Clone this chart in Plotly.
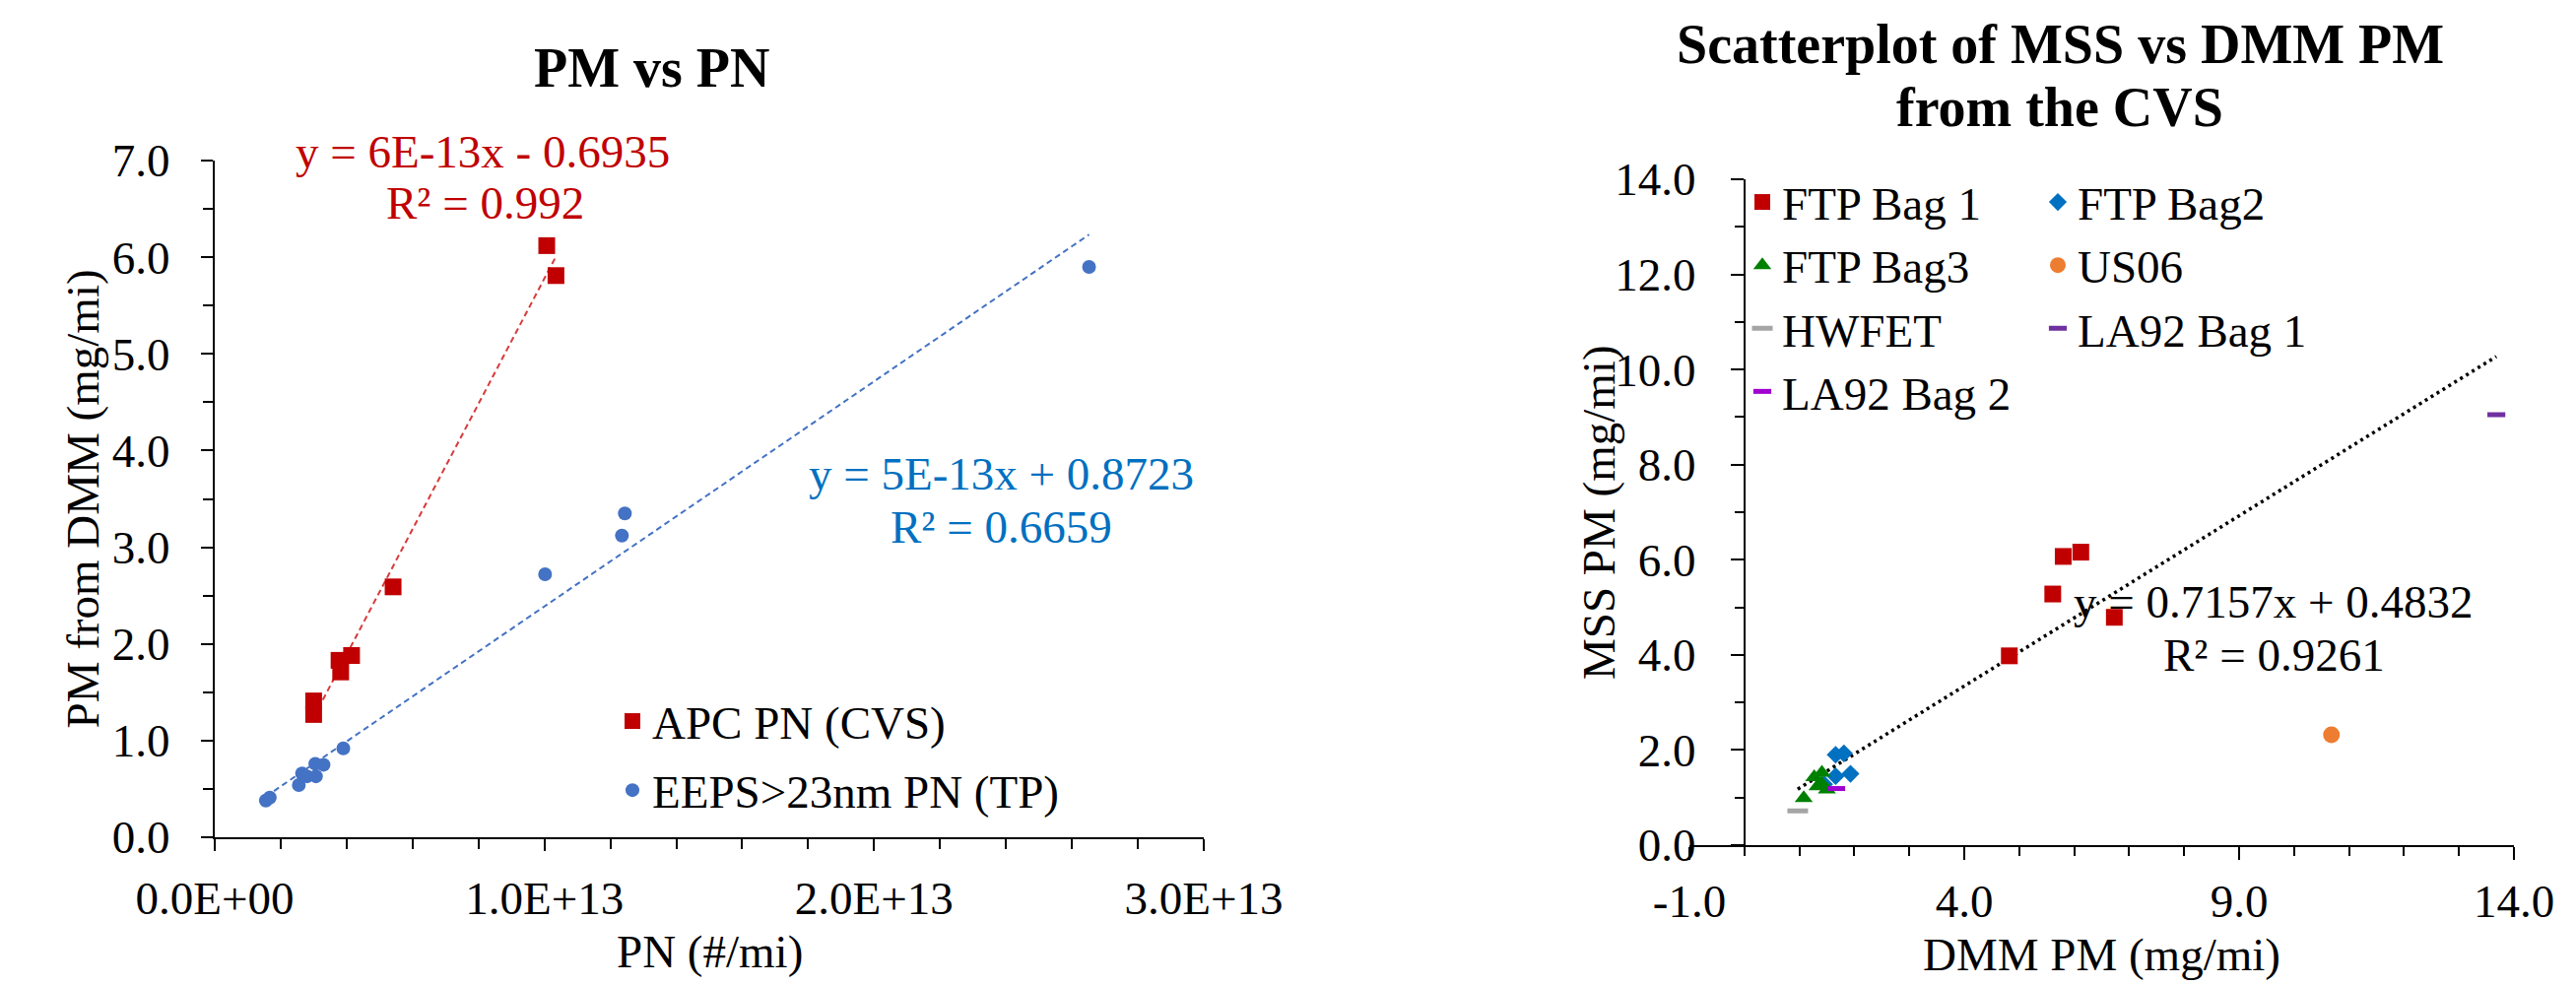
import numpy as np
import plotly.graph_objects as go

W, H = 2615, 1000
FONT = "Liberation Serif, Times New Roman, serif"

# ---------------- Left chart data: PM vs PN ----------------
apc_pn = [3.0e12, 3.0e12, 3.77e12, 3.82e12, 4.15e12, 5.41e12, 10.07e12, 10.35e12]
apc_pm = [1.41, 1.27, 1.83, 1.71, 1.88, 2.59, 6.12, 5.81]

eeps_pn = [1.55e12, 1.67e12, 2.55e12, 2.65e12, 2.80e12, 3.05e12, 3.07e12, 3.30e12,
           3.90e12, 10.02e12, 12.35e12, 12.44e12, 26.52e12]
eeps_pm = [0.38, 0.41, 0.54, 0.66, 0.63, 0.76, 0.63, 0.75, 0.92, 2.72, 3.12, 3.35, 5.90]

left_xtickvals = [0, 1e13, 2e13, 3e13]
left_xticktext = ["0.0E+00", "1.0E+13", "2.0E+13", "3.0E+13"]

apc_eq = "y = 6E-13x - 0.6935"
apc_r2 = "R² = 0.992"
eeps_eq = "y = 5E-13x + 0.8723"
eeps_r2 = "R² = 0.6659"

# ---------------- Right chart data: MSS vs DMM ----------------
ftp1_x = [4.82, 5.61, 5.80, 6.12, 6.73]
ftp1_y = [3.98, 5.28, 6.07, 6.16, 4.79]
ftp2_x = [1.45, 1.66, 1.81, 1.66, 1.93]
ftp2_y = [1.28, 1.90, 1.93, 1.45, 1.50]
ftp3_x = [1.08, 1.27, 1.41, 1.33, 1.50, 1.40]
ftp3_y = [0.99, 1.43, 1.52, 1.24, 1.17, 1.30]
us06_x = [10.68]
us06_y = [2.32]
hwfet_x = [0.97]
hwfet_y = [0.72]
la92b1_x = [13.68]
la92b1_y = [9.05]
la92b2_x = [1.67]
la92b2_y = [1.19]

right_xtickvals = [-1, 4, 9, 14]
right_xticktext = ["-1.0", "4.0", "9.0", "14.0"]

mss_slope = 0.7157
mss_intercept = 0.4832
mss_eq = "y = 0.7157x + 0.4832"
mss_r2 = "R² = 0.9261"

# ---------------- geometry (pixels on the page) ----------------
L_X0, L_X1, L_Y0, L_Y1 = 218, 1222, 850, 163
R_X0, R_X1, R_Y0, R_Y1 = 1715, 2552, 858, 182


def px(x):
    return x / W


def py(y):
    return 1 - y / H


fig = go.Figure()

# left trendlines (least squares on the data)
for xs, ys, col in [(apc_pn, apc_pm, "#D83A3A"), (eeps_pn, eeps_pm, "#4472C4")]:
    m, b = np.polyfit(xs, ys, 1)
    tx = np.array([min(xs), max(xs)])
    fig.add_trace(go.Scatter(x=tx, y=m * tx + b, mode="lines", xaxis="x", yaxis="y",
                             line=dict(color=col, width=2, dash="6px,4px"),
                             showlegend=False, hoverinfo="skip"))

fig.add_trace(go.Scatter(x=apc_pn, y=apc_pm, mode="markers", name="APC PN (CVS)",
                         xaxis="x", yaxis="y", legend="legend", legendgroup="apc",
                         marker=dict(symbol="square", size=17, color="#C00000")))
fig.add_trace(go.Scatter(x=eeps_pn, y=eeps_pm, mode="markers", name="EEPS>23nm PN (TP)",
                         xaxis="x", yaxis="y", legend="legend", legendgroup="eeps",
                         marker=dict(symbol="circle", size=14, color="#4472C4")))

# right chart series
all_rx = ftp1_x + ftp2_x + ftp3_x + us06_x + hwfet_x + la92b1_x + la92b2_x
tx = np.array([min(all_rx), max(all_rx)])
fig.add_trace(go.Scatter(x=tx, y=mss_slope * tx + mss_intercept, mode="lines",
                         xaxis="x2", yaxis="y2", showlegend=False, hoverinfo="skip",
                         line=dict(color="black", width=3.5, dash="3px,4px")))

series = [
    ("FTP Bag 1", ftp1_x, ftp1_y, dict(symbol="square", size=17, color="#C00000"), "legend2"),
    ("FTP Bag2", ftp2_x, ftp2_y, dict(symbol="diamond", size=14, color="#0070C0"), "legend3"),
    ("FTP Bag3", ftp3_x, ftp3_y, dict(symbol="triangle-up", size=16, color="#008000"), "legend2"),
    ("US06", us06_x, us06_y, dict(symbol="circle", size=17, color="#ED7D31"), "legend3"),
    ("HWFET", hwfet_x, hwfet_y, dict(symbol="line-ew", size=15, color="#A5A5A5",
                                     line=dict(color="#A5A5A5", width=5)), "legend2"),
    ("LA92 Bag 1", la92b1_x, la92b1_y, dict(symbol="line-ew", size=13, color="#7030A0",
                                            line=dict(color="#7030A0", width=5)), "legend3"),
    ("LA92 Bag 2", la92b2_x, la92b2_y, dict(symbol="line-ew", size=13, color="#A000D0",
                                            line=dict(color="#A000D0", width=5)), "legend2"),
]
for name, xs, ys, mk, lg in series:
    fig.add_trace(go.Scatter(x=xs, y=ys, mode="markers", name=name, xaxis="x2", yaxis="y2",
                             legend=lg, marker=mk))

axfont = dict(family=FONT, size=47, color="black")
common = dict(showgrid=False, zeroline=False, showline=True, linecolor="black", linewidth=2,
              ticks="outside", tickcolor="black", tickwidth=2, tickfont=axfont,
              fixedrange=True, automargin=False)

r_xdom = [px(R_X0), px(R_X1)]
r_xrange = [-1, 14]
yaxis_pos = r_xdom[0] + (0 - r_xrange[0]) / (r_xrange[1] - r_xrange[0]) * (r_xdom[1] - r_xdom[0])

legfont = dict(family=FONT, size=47, color="black")
fig.update_layout(
    template="none",
    width=W, height=H, autosize=False,
    margin=dict(l=0, r=0, t=0, b=0, pad=0, autoexpand=False),
    paper_bgcolor="white", plot_bgcolor="white",
    font=dict(family=FONT, color="black"),
    xaxis=dict(domain=[px(L_X0), px(L_X1)], range=[0, 3e13], anchor="y",
               tickmode="array", tickvals=left_xtickvals, ticktext=left_xticktext,
               ticklen=12, ticklabelstandoff=8,
               minor=dict(ticks="outside", ticklen=10, tickwidth=2, tickcolor="black",
                          tickmode="linear", tick0=0, dtick=2e12),
               **common),
    yaxis=dict(domain=[py(L_Y0), py(L_Y1)], range=[0, 7], anchor="x",
               tickmode="linear", tick0=0, dtick=1, tickformat=".1f",
               ticklen=12, ticklabelstandoff=22,
               minor=dict(ticks="outside", ticklen=10, tickwidth=2, tickcolor="black",
                          tickmode="linear", tick0=0, dtick=0.5),
               **common),
    xaxis2=dict(domain=r_xdom, range=r_xrange, anchor="y2",
                tickmode="array", tickvals=right_xtickvals, ticktext=right_xticktext,
                ticklen=13, ticklabelstandoff=2,
                minor=dict(ticks="outside", ticklen=9, tickwidth=2, tickcolor="black",
                           tickmode="linear", tick0=-1, dtick=1),
                **common),
    yaxis2=dict(domain=[py(R_Y0), py(R_Y1)], range=[0, 14], anchor="free", position=yaxis_pos,
                tickmode="linear", tick0=0, dtick=2, tickformat=".1f",
                ticklen=13, ticklabelstandoff=26,
                minor=dict(ticks="outside", ticklen=9, tickwidth=2, tickcolor="black",
                           tickmode="linear", tick0=0, dtick=1),
                **common),
    legend=dict(x=px(622), y=py(695), xanchor="left", yanchor="top", tracegroupgap=6,
                bgcolor="rgba(0,0,0,0)", font=legfont),
    legend2=dict(x=px(1769), y=py(168), xanchor="left", yanchor="top",
                 bgcolor="rgba(0,0,0,0)", font=legfont),
    legend3=dict(x=px(2069), y=py(168), xanchor="left", yanchor="top",
                 bgcolor="rgba(0,0,0,0)", font=legfont),
    showlegend=True,
)


def note(text, x, y, size=47, color="black", angle=0):
    fig.add_annotation(text=text, x=px(x), y=py(y), xref="paper", yref="paper",
                       xanchor="center", yanchor="middle", showarrow=False, textangle=angle,
                       font=dict(family=FONT, size=size, color=color))


# titles
note("<b>PM vs PN</b>", 662, 69, size=56)
note("<b>Scatterplot of MSS vs DMM PM</b>", 2091, 45, size=56)
note("<b>from the CVS</b>", 2091, 109, size=56)
# axis titles
note("PN (#/mi)", (L_X0 + L_X1) / 2, 966)
note("PM from DMM (mg/mi)", 84, (L_Y0 + L_Y1) / 2, angle=-90)
note("DMM PM (mg/mi)", (R_X0 + R_X1) / 2, 969)
note("MSS PM (mg/mi)", 1623, (R_Y0 + R_Y1) / 2, angle=-90)
# trendline labels
note(apc_eq, 490, 154, color="#C00000")
note(apc_r2, 492, 206, color="#C00000")
note(eeps_eq, 1017, 481, color="#0070C0")
note(eeps_r2, 1017, 535, color="#0070C0")
note(mss_eq, 2308, 611)
note(mss_r2, 2308, 665)

fig.write_html("out.html", config={"displayModeBar": False},
               post_script="document.body.style.margin='0';document.body.style.overflow='hidden';")
